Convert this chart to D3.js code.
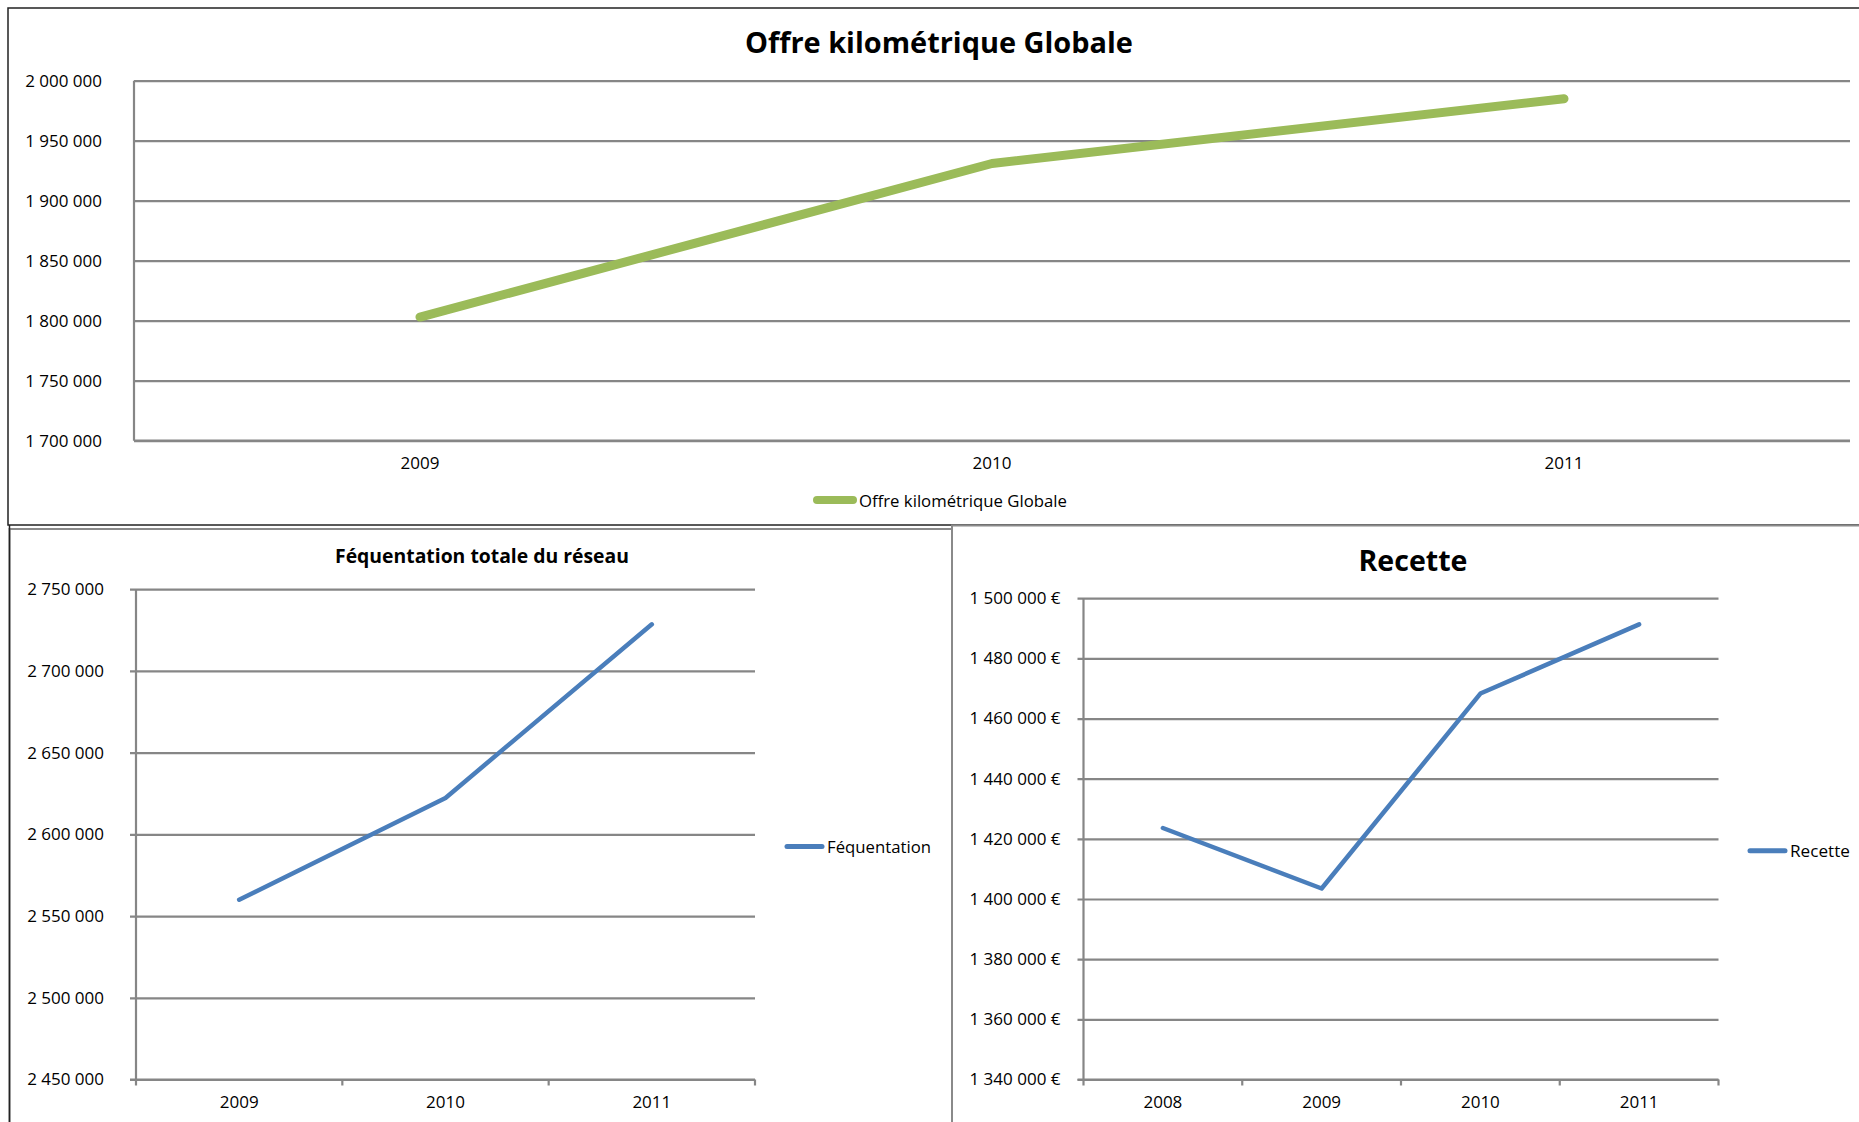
<!DOCTYPE html>
<html><head><meta charset="utf-8">
<script src="https://cdn.jsdelivr.net/npm/d3@7"></script>
<style>
html,body{margin:0;padding:0;background:#fff;}
svg{display:block;}
text{font-family:"Open Sans",sans-serif;fill:#000;}
</style></head>
<body>
<svg id="c" width="1859" height="1122"></svg>
<script>
// ---------- DATA ----------
const kmTitle = "Offre kilométrique Globale";
const kmSeriesName = "Offre kilométrique Globale";
const kmYears = ["2009", "2010", "2011"];
const kmValues = [1803000, 1931000, 1985000];
const kmTicks = [1700000, 1750000, 1800000, 1850000, 1900000, 1950000, 2000000];

const freqTitle = "Féquentation totale du réseau";
const freqSeriesName = "Féquentation";
const freqYears = ["2009", "2010", "2011"];
const freqValues = [2560000, 2622300, 2728500];
const freqTicks = [2450000, 2500000, 2550000, 2600000, 2650000, 2700000, 2750000];

const recTitle = "Recette";
const recSeriesName = "Recette";
const recYears = ["2008", "2009", "2010", "2011"];
const recValues = [1423600, 1403500, 1468300, 1491300];
const recTicks = [1340000, 1360000, 1380000, 1400000, 1420000, 1440000, 1460000, 1480000, 1500000];

// ---------- HELPERS ----------
const fr = d3.formatLocale({decimal: ",", thousands: " ", grouping: [3], currency: ["", " €"]});
const fmtNum = fr.format(",d");
const fmtEur = fr.format("$,d");
const svg = d3.select("#c");
const GRID = "#868686";
const GREEN = "#9bbb59";
const BLUE = "#4a7ebb";

function fitText(sel, width) {
  const n = sel.node();
  const fs = parseFloat(sel.attr("font-size"));
  const w = n.getComputedTextLength();
  if (w > 0) sel.attr("font-size", (fs * width / w).toFixed(2));
}

function chart(opt) {
  const g = svg.append("g");
  const x = d3.scaleBand().domain(opt.cats).range([opt.x0, opt.x1]).padding(0);
  const y = d3.scaleLinear().domain(opt.domain).range([opt.yb, opt.yt]);
  const w = opt.x1 - opt.x0;

  // gridlines
  const grid = g.append("g").attr("transform", `translate(${opt.x0},0)`)
    .call(d3.axisLeft(y).tickValues(opt.ticks).tickSize(-w).tickFormat(""));
  grid.select(".domain").remove();
  grid.selectAll("line").attr("stroke", GRID).attr("stroke-width", 2.2)
    .attr("x1", -opt.tickOut);

  // y labels
  const yl = g.append("g").attr("transform", `translate(${opt.x0},0)`)
    .call(d3.axisLeft(y).tickValues(opt.ticks).tickSize(0).tickPadding(opt.labelPad).tickFormat(opt.fmt));
  yl.select(".domain").remove();
  yl.selectAll("text").attr("font-size", opt.tickFs).attr("font-family", "Open Sans").attr("fill", "#000");

  // y axis line
  g.append("line").attr("x1", opt.x0).attr("x2", opt.x0).attr("y1", opt.yt).attr("y2", opt.yb)
    .attr("stroke", GRID).attr("stroke-width", 2.2);

  // x axis
  const xa = g.append("g").attr("transform", `translate(0,${opt.yb})`)
    .call(d3.axisBottom(x).tickSize(0).tickPadding(opt.xPad));
  xa.select(".domain").remove();
  xa.selectAll("text").attr("font-size", opt.tickFs).attr("font-family", "Open Sans").attr("fill", "#000");
  g.append("line").attr("x1", opt.x0 - opt.tickOut).attr("x2", opt.x1).attr("y1", opt.yb).attr("y2", opt.yb)
    .attr("stroke", GRID).attr("stroke-width", 2.2);
  if (opt.tickOut > 0) {
    const bounds = opt.cats.map(c => x(c)).concat([opt.x1]);
    g.selectAll(".xt").data(bounds).enter().append("line")
      .attr("x1", d => d).attr("x2", d => d).attr("y1", opt.yb).attr("y2", opt.yb + opt.tickOut)
      .attr("stroke", GRID).attr("stroke-width", 2.2);
  }

  // series line
  const pts = opt.cats.map((c, i) => [x(c) + x.bandwidth() / 2, y(opt.values[i])]);
  g.append("path").attr("d", d3.line()(pts)).attr("fill", "none")
    .attr("stroke", opt.color).attr("stroke-width", opt.lw)
    .attr("stroke-linecap", "round").attr("stroke-linejoin", "round");

  // title
  const t = g.append("text").attr("x", opt.titleX).attr("y", opt.titleY)
    .attr("text-anchor", "middle").attr("dominant-baseline", "central")
    .attr("font-weight", "bold").attr("font-size", 20).text(opt.title);
  fitText(t, opt.titleW);

  // legend
  g.append("line").attr("x1", opt.legX1).attr("x2", opt.legX2).attr("y1", opt.legY).attr("y2", opt.legY)
    .attr("stroke", opt.color).attr("stroke-width", opt.legLw).attr("stroke-linecap", "round");
  const lt = g.append("text").attr("x", opt.legTx).attr("y", opt.legY)
    .attr("dominant-baseline", "central").attr("font-size", 15).text(opt.series);
  fitText(lt, opt.legTw);
  return {x, y};
}

// ---------- FRAMES ----------
svg.append("rect").attr("x", 8).attr("y", 8).attr("width", 1900).attr("height", 517)
  .attr("fill", "none").attr("stroke", "#222").attr("stroke-width", 1.5);
svg.append("rect").attr("x", 9.5).attr("y", 529).attr("width", 942.5).attr("height", 600)
  .attr("fill", "none").attr("stroke", "#8a8a8a").attr("stroke-width", 2);
svg.append("line").attr("x1", 9.5).attr("x2", 9.5).attr("y1", 525).attr("y2", 1122)
  .attr("stroke", "#222").attr("stroke-width", 1.5);
svg.append("rect").attr("x", 952).attr("y", 525.5).attr("width", 1000).attr("height", 600)
  .attr("fill", "none").attr("stroke", "#8a8a8a").attr("stroke-width", 2);

// ---------- CHARTS ----------
chart({
  cats: kmYears, values: kmValues, ticks: kmTicks, domain: [1700000, 2000000],
  x0: 134, x1: 1850, yt: 80.7, yb: 440.7, tickOut: 0, labelPad: 32, xPad: 16, tickFs: 17,
  fmt: fmtNum, color: GREEN, lw: 9,
  title: kmTitle, titleX: 939, titleY: 41, titleW: 388,
  series: kmSeriesName, legX1: 817, legX2: 853, legY: 500, legLw: 8, legTx: 859, legTw: 208
});

chart({
  cats: freqYears, values: freqValues, ticks: freqTicks, domain: [2450000, 2750000],
  x0: 136, x1: 755, yt: 589.2, yb: 1079.5, tickOut: 6, labelPad: 32, xPad: 16, tickFs: 17,
  fmt: fmtNum, color: BLUE, lw: 4.5,
  title: freqTitle, titleX: 482, titleY: 555, titleW: 294,
  series: freqSeriesName, legX1: 787, legX2: 822, legY: 846.5, legLw: 5, legTx: 827, legTw: 104
});

chart({
  cats: recYears, values: recValues, ticks: recTicks, domain: [1340000, 1500000],
  x0: 1083.5, x1: 1718.5, yt: 598.2, yb: 1079.5, tickOut: 6, labelPad: 23, xPad: 16, tickFs: 17,
  fmt: fmtEur, color: BLUE, lw: 4.5,
  title: recTitle, titleX: 1413, titleY: 559, titleW: 109,
  series: recSeriesName, legX1: 1750, legX2: 1785, legY: 850.7, legLw: 5, legTx: 1790, legTw: 60
});
</script>
</body></html>
